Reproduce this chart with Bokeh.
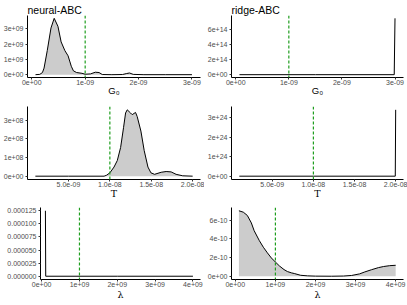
from bokeh.plotting import figure
from bokeh.layouts import column, row
from bokeh.models import FixedTicker, Span, Range1d, CustomJSTickFormatter
from bokeh.embed import file_html
from bokeh.resources import INLINE

# ---------------- data ----------------
G0_UNIT = 1e-9
T_UNIT = 1e-9
LAM_UNIT = 1e9

# neural-ABC, G0  (x in 1e-9, density in 1e9)
g0_neural_x = [0.07, 0.15, 0.2, 0.23, 0.29, 0.36, 0.42, 0.49, 0.55, 0.62, 0.68, 0.71, 0.74,
               0.78, 0.84, 0.94, 1.0, 1.1, 1.19, 1.26, 1.32, 1.5, 1.7, 1.77, 1.83, 1.9, 2.1, 2.5, 3.0]
g0_neural_y = [0.0, 0.02, 0.14, 0.43, 1.57, 3.05, 3.68, 3.16, 2.14, 1.57, 1.23, 0.89, 0.55,
               0.25, 0.14, 0.09, 0.03, 0.05, 0.16, 0.14, 0.01, 0.0, 0.01, 0.07, 0.11, 0.02, 0.0, 0.0, 0.0]
# ridge-ABC, G0 (density in 1e14)
g0_ridge_x = [0.07, 1.5, 2.985, 3.0]
g0_ridge_y = [0.0, 0.0, 0.0, 7.47]
# neural-ABC, T (x in 1e-9, density in 1e8)
t_neural_x = [1.0, 5.0, 9.3, 9.6, 10.0, 10.5, 10.9, 11.3, 11.65, 11.9, 12.1, 12.5, 12.7, 13.1, 13.3,
              13.75, 14.15, 14.6, 14.96, 15.4, 16.2, 16.8, 17.4, 18.0, 18.8, 20.0]
t_neural_y = [0.0, 0.0, 0.0, 0.05, 0.18, 0.49, 0.84, 1.54, 2.6, 3.39, 3.56, 3.39, 3.3, 3.42, 3.2,
              2.42, 1.37, 0.49, 0.18, 0.1, 0.21, 0.25, 0.23, 0.1, 0.02, 0.0]
# ridge-ABC, T (density in 1e24)
t_ridge_x = [1.0, 10.0, 19.95, 20.0]
t_ridge_y = [0.0, 0.0, 0.0, 3.4]
# neural-ABC, lambda (x in 1e9, density in 1e-4)
lam_neural_x = [0.1, 0.108, 2.0, 4.0]
lam_neural_y = [1.25, 0.0, 0.0, 0.0]
# ridge-ABC, lambda (x in 1e9, density in 1e-10)
lam_ridge_x = [0.09, 0.2, 0.3, 0.4, 0.47, 0.6, 0.7, 0.8, 0.9, 1.0, 1.1, 1.215, 1.3, 1.4, 1.47, 1.63,
               1.8, 2.0, 2.4, 2.7, 2.9, 3.1, 3.23, 3.4, 3.57, 3.7, 3.85, 4.0]
lam_ridge_y = [7.0, 6.85, 6.5, 5.7, 4.87, 3.8, 3.1, 2.5, 1.95, 1.52, 1.1, 0.71, 0.5, 0.36, 0.29, 0.1,
               0.04, 0.01, 0.0, 0.02, 0.08, 0.25, 0.46, 0.7, 0.92, 1.04, 1.13, 1.17]

truth_g0 = 1e-9
truth_t = 1e-8
truth_lam = 1e9

g0_ticks = [0, 1e-9, 2e-9, 3e-9]
g0_labels = ["0e+00", "1e-09", "2e-09", "3e-09"]
t_ticks = [5e-9, 1e-8, 1.5e-8, 2e-8]
t_labels = ["5.0e-09", "1.0e-08", "1.5e-08", "2.0e-08"]
lam_ticks = [0, 1e9, 2e9, 3e9, 4e9]
lam_labels = ["0e+00", "1e+09", "2e+09", "3e+09", "4e+09"]
y1_ticks = [0, 1e9, 2e9, 3e9]
y1_labels = ["0e+00", "1e+09", "2e+09", "3e+09"]
y2_ticks = [0, 2e14, 4e14, 6e14]
y2_labels = ["0e+00", "2e+14", "4e+14", "6e+14"]
y3_ticks = [0, 1e8, 2e8, 3e8]
y3_labels = ["0e+00", "1e+08", "2e+08", "3e+08"]
y4_ticks = [0, 1e24, 2e24, 3e24]
y4_labels = ["0e+00", "1e+24", "2e+24", "3e+24"]
y5_ticks = [0, 0.000025, 0.00005, 0.000075, 0.0001, 0.000125]
y5_labels = ["0.000000", "0.000025", "0.000050", "0.000075", "0.000100", "0.000125"]
y6_ticks = [0, 2e-10, 4e-10, 6e-10]
y6_labels = ["0e+00", "2e-10", "4e-10", "6e-10"]

# ---------------- styling ----------------
FONT = "Liberation Sans"
SERIF = "DejaVu Serif"
FILL = "#cccccc"
GREEN = "#1e9e1e"


def fmt(labels):
    return CustomJSTickFormatter(args=dict(labels=labels), code="return labels[index];")


def panel(x, y, xunit, yunit, truth, xr, xt, xl, yt, yl, xlabel, xfont, lab_standoff,
          w, h, bl, br, bt, bb, title=None):
    xs = [v * xunit for v in x]
    ys = [v * yunit for v in y]
    ymax = max(ys)
    p = figure(width=w, height=h, output_backend="svg", toolbar_location=None,
               x_range=Range1d(*xr), y_range=Range1d(-0.05 * ymax, 1.05 * ymax),
               min_border_left=bl, min_border_right=br, min_border_top=bt,
               min_border_bottom=bb)
    p.background_fill_color = "white"
    p.border_fill_color = "white"
    p.outline_line_color = None
    p.xgrid.visible = False
    p.ygrid.visible = False
    if title:
        p.title.text = title
        p.title.text_font = FONT
        p.title.text_font_size = "10.5px"
        p.title.text_font_style = "normal"
        p.title.text_color = "black"
        p.title.standoff = 0
        p.title.align = "left"
    else:
        p.title.text = ""
        p.title.standoff = 0
    p.varea(x=xs, y1=[0] * len(ys), y2=ys, fill_color=FILL)
    p.line(xs, ys, line_color="black", line_width=1)
    p.add_layout(Span(location=truth, dimension="height", line_color=GREEN,
                      line_dash="3 2", line_width=1.2))
    for ax in (p.xaxis[0], p.yaxis[0]):
        ax.axis_line_color = "black"
        ax.axis_line_width = 1
        ax.major_tick_line_color = "#333333"
        ax.major_tick_out = 2
        ax.major_tick_in = 0
        ax.minor_tick_out = 0
        ax.minor_tick_in = 0
        ax.minor_tick_line_color = None
        ax.major_label_text_font = FONT
        ax.major_label_text_font_size = "7px"
        ax.major_label_text_color = "#4d4d4d"
    p.xaxis[0].ticker = FixedTicker(ticks=xt)
    p.xaxis[0].formatter = fmt(xl)
    p.yaxis[0].ticker = FixedTicker(ticks=yt)
    p.yaxis[0].formatter = fmt(yl)
    p.xaxis[0].major_label_standoff = 0
    p.yaxis[0].major_label_standoff = 2
    p.xaxis[0].axis_label = xlabel
    p.xaxis[0].axis_label_text_font = xfont
    p.xaxis[0].axis_label_text_font_size = "9.5px"
    p.xaxis[0].axis_label_text_font_style = "normal"
    p.xaxis[0].axis_label_text_color = "black"
    p.xaxis[0].axis_label_standoff = lab_standoff
    return p


G0_RANGE = (-0.08e-9, 3.16e-9)
T_RANGE = (0.05e-9, 20.95e-9)
LAM5_RANGE = (-0.03e9, 4.2e9)
LAM6_RANGE = (-0.095e9, 4.195e9)

p1 = panel(g0_neural_x, g0_neural_y, G0_UNIT, 1e9, truth_g0, G0_RANGE, g0_ticks, g0_labels,
           y1_ticks, y1_labels, "G\u2080", FONT, -3, 204, 102, 27, 4, 15, 25, title="neural-ABC")
p2 = panel(g0_ridge_x, g0_ridge_y, G0_UNIT, 1e14, truth_g0, G0_RANGE, g0_ticks, g0_labels,
           y2_ticks, y2_labels, "G\u2080", FONT, -3, 203, 102, 26, 4, 15, 25, title="ridge-ABC")
p3 = panel(t_neural_x, t_neural_y, T_UNIT, 1e8, truth_t, T_RANGE, t_ticks, t_labels,
           y3_ticks, y3_labels, "T", SERIF, -2, 204, 102, 27, 4, 4, 25)
p4 = panel(t_ridge_x, t_ridge_y, T_UNIT, 1e24, truth_t, T_RANGE, t_ticks, t_labels,
           y4_ticks, y4_labels, "T", SERIF, -2, 203, 102, 26, 4, 4, 25)
p5 = panel(lam_neural_x, lam_neural_y, LAM_UNIT, 1e-4, truth_lam, LAM5_RANGE, lam_ticks, lam_labels,
           y5_ticks, y5_labels, "\u03bb", SERIF, -1, 204, 101, 40, 4, 3, 26)
p6 = panel(lam_ridge_x, lam_ridge_y, LAM_UNIT, 1e-10, truth_lam, LAM6_RANGE, lam_ticks, lam_labels,
           y6_ticks, y6_labels, "\u03bb", SERIF, -1, 203, 101, 26, 4, 3, 26)

layout = column(row(p1, p2), row(p3, p4), row(p5, p6))
open("out.html", "w").write(file_html(layout, INLINE))
